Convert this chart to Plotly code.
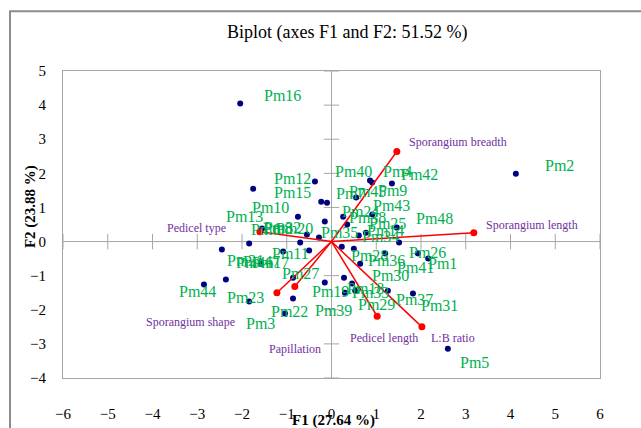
import plotly.graph_objects as go

# ---------------- data ----------------
samples = ["Pm1", "Pm2", "Pm3", "Pm4", "Pm5", "Pm6", "Pm7", "Pm8", "Pm9", "Pm10",
           "Pm11", "Pm12", "Pm13", "Pm14", "Pm15", "Pm16", "Pm17", "Pm18", "Pm19", "Pm20",
           "Pm21", "Pm22", "Pm23", "Pm24", "Pm25", "Pm26", "Pm27", "Pm28", "Pm29", "Pm30",
           "Pm31", "Pm32", "Pm33", "Pm34", "Pm35", "Pm36", "Pm37", "Pm38", "Pm39", "Pm40",
           "Pm41", "Pm42", "Pm43", "Pm44", "Pm45", "Pm46", "Pm47", "Pm48"]
f1_scores = [2.16, 4.12, -1.04, 0.91, 2.60, -1.84, -0.23, -0.70, 0.55, -0.75,
             -1.08, -0.37, -1.55, 0.61, -1.75, -2.04, -0.50, 0.28, -0.15, -0.28,
             -2.45, -0.86, -1.84, 0.26, 0.77, 1.93, -0.86, 0.23, 0.53, 0.64,
             1.82, -0.55, 0.46, 1.51, -0.15, 0.50, 1.26, 0.35, 0.30, 0.86,
             1.20, 1.35, 0.91, -2.85, -0.10, -2.36, -1.58, 1.46]
f2_scores = [-0.50, 1.99, -2.11, 1.73, -3.14, -0.06, 1.17, -0.03, 1.29, 0.73,
             -0.29, 1.76, 0.38, 0.18, 1.55, 4.05, -0.26, -1.06, -1.20, 0.12,
             -0.23, -1.67, -1.76, 0.73, 0.26, -0.35, -1.06, -0.15, -1.44, -0.65,
             -1.52, 0.21, -1.23, -0.03, 0.59, -0.21, -1.44, 0.50, -1.50, 1.79,
             -0.35, 1.70, 0.79, -1.26, 1.14, -1.11, -0.65, 0.41]

variables = ["Sporangium breadth", "Sporangium length", "Pedicel type", "Sporangium shape",
             "Papillation", "Pedicel length", "L:B ratio"]
var_f1 = [1.46, 3.18, -1.60, -1.22, -0.82, 1.02, 2.02]
var_f2 = [2.64, 0.26, 0.29, -1.50, -1.32, -2.19, -2.50]

x_ticks = [-6, -5, -4, -3, -2, -1, 0, 1, 2, 3, 4, 5, 6]
y_ticks = [-4, -3, -2, -1, 0, 1, 2, 3, 4, 5]

# ---------------- styles (label offsets in pixels: right, up) ----------------
sample_label_shift = [(14, -5), (44, 8), (-24, -10), (25, 11), (27, -14), (16, 14), (29, 8), (-23, 14), (36, 7), (-27, 9),
                      (7, -2), (-22, 3), (-18, 12), (27, 5), (39, -4), (42, 8), (-39, -12), (21, -11), (6, -9), (-24, 9),
                      (24, -11), (-4, -13), (-4, 4), (17, 5), (22, 9), (10, 1), (7, 4), (28, -9), (21, -14), (30, -12),
                      (27, -12), (-24, 7), (18, -9), (-19, 6), (15, -11), (33, -12), (27, -9), (20, 7), (-11, -18), (-16, 9),
                      (30, -14), (28, 9), (19, 9), (-6, -7), (40, 11), (29, 17), (1, 2), (38, 9)]
var_label_shift = [(61, 10), (58, 8), (-63, 4), (-86, -29), (0, -62), (7, -22), (31, -11)]

SERIF = "Liberation Serif"
GREEN = "#00B050"
PURPLE = "#7030A0"
GRAY = "#A6A6A6"

fig = go.Figure()

# zero-line tick marks
fig.add_trace(go.Scatter(x=x_ticks, y=[0] * len(x_ticks), mode="markers",
                         marker=dict(symbol="line-ns", size=11, line=dict(color=GRAY, width=1)),
                         hoverinfo="skip", showlegend=False))
fig.add_trace(go.Scatter(x=[0] * len(y_ticks), y=y_ticks, mode="markers",
                         marker=dict(symbol="line-ew", size=11, line=dict(color=GRAY, width=1)),
                         hoverinfo="skip", showlegend=False))

# observations
fig.add_trace(go.Scatter(x=f1_scores, y=f2_scores, mode="markers",
                         marker=dict(color="#000080", size=6), showlegend=False))

# variable vectors
vx, vy = [], []
for a, b in zip(var_f1, var_f2):
    vx += [0, a, None]
    vy += [0, b, None]
fig.add_trace(go.Scatter(x=vx, y=vy, mode="lines", line=dict(color="#FF0000", width=1.5),
                         showlegend=False, hoverinfo="skip"))
fig.add_trace(go.Scatter(x=var_f1, y=var_f2, mode="markers",
                         marker=dict(color="#FF0000", size=7), showlegend=False))

annotations = []
for name, a, b, (dx, dy) in zip(samples, f1_scores, f2_scores, sample_label_shift):
    annotations.append(dict(x=a, y=b, text=name, showarrow=False, xshift=dx, yshift=dy,
                            xanchor="center", yanchor="middle",
                            font=dict(family=SERIF, size=16, color=GREEN)))
for name, a, b, (dx, dy) in zip(variables, var_f1, var_f2, var_label_shift):
    annotations.append(dict(x=a, y=b, text=name, showarrow=False, xshift=dx, yshift=dy,
                            xanchor="center", yanchor="middle",
                            font=dict(family=SERIF, size=12, color=PURPLE)))

# title and axis titles
annotations.append(dict(xref="paper", yref="paper", x=0.529, y=1.124, xanchor="center", yanchor="middle",
                        text="Biplot (axes F1 and F2: 51.52 %)",
                        showarrow=False, font=dict(family=SERIF, size=18, color="black")))
annotations.append(dict(xref="paper", yref="paper", x=0.503, y=-0.137, xanchor="center", yanchor="middle",
                        text="<b>F1 (27.64 %)</b>",
                        showarrow=False, font=dict(family=SERIF, size=15, color="black")))
annotations.append(dict(xref="paper", yref="paper", x=-0.0615, y=0.56, xanchor="center", yanchor="middle",
                        text="<b>F2 (23.88 %)</b>",
                        textangle=-90, showarrow=False, font=dict(family=SERIF, size=15, color="black")))

shapes = [
    dict(type="line", xref="x", yref="y", x0=x_ticks[0], x1=x_ticks[-1], y0=0, y1=0,
         line=dict(color=GRAY, width=1), layer="below"),
    dict(type="line", xref="x", yref="y", x0=0, x1=0, y0=y_ticks[0], y1=y_ticks[-1],
         line=dict(color=GRAY, width=1), layer="below"),
    dict(type="rect", xref="paper", yref="paper", x0=-0.0987, x1=2, y0=-2, y1=1.195,
         line=dict(color="#8C8C8C", width=2)),
]

fig.update_layout(
    width=641, height=428,
    margin=dict(l=63, r=41, t=71, b=50),
    paper_bgcolor="white", plot_bgcolor="white",
    annotations=annotations, shapes=shapes,
    xaxis=dict(range=[-6, 6], tickvals=x_ticks, showgrid=False, zeroline=False, automargin=False,
               showline=True, mirror=True, linecolor=GRAY, linewidth=1, ticks="",
               ticklabelstandoff=22, tickfont=dict(family=SERIF, size=15, color="black")),
    yaxis=dict(range=[-4, 5], tickvals=y_ticks, showgrid=False, zeroline=False, automargin=False,
               showline=True, mirror=True, linecolor=GRAY, linewidth=1, ticks="",
               ticklabelstandoff=13, tickfont=dict(family=SERIF, size=15, color="black")),
)

fig.write_html("out.html")
